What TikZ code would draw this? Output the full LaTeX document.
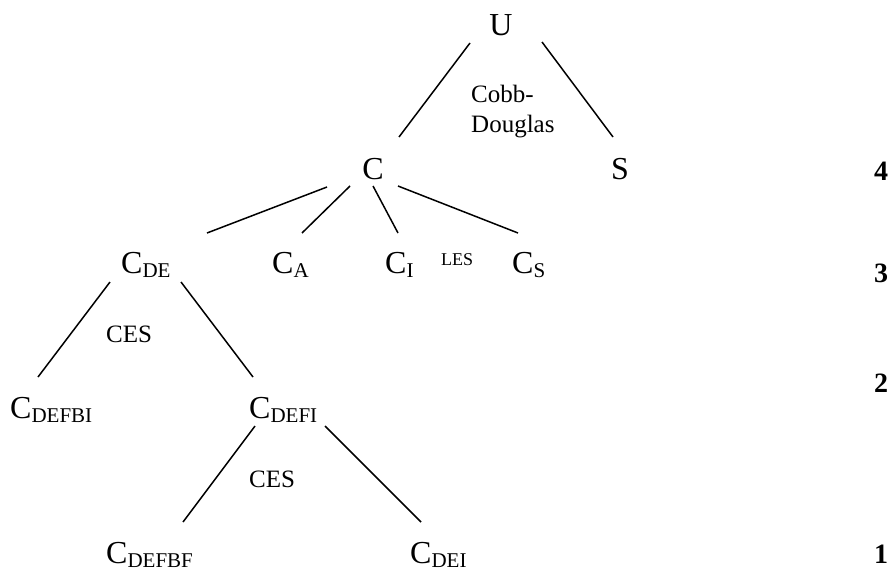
\documentclass[tikz,border=0pt]{standalone}
\usepackage{fontspec}
\setmainfont{Liberation Serif}
\newcommand{\mysub}[1]{\raisebox{-4pt}{\fontsize{21}{21}\selectfont #1}}
\tikzset{
  main/.style={inner sep=0pt, font=\fontsize{32}{38}\selectfont},
  lbl/.style={inner sep=0pt, font=\fontsize{25}{30}\selectfont},
  small/.style={inner sep=0pt, font=\fontsize{18}{20}\selectfont},
  lvl/.style={inner sep=0pt, font=\fontsize{28}{32}\selectfont\bfseries, anchor=base west},
  edge/.style={line width=1.5pt}
}
\begin{document}
\begin{tikzpicture}[x=1pt,y=-1pt]
\useasboundingbox (0,0) rectangle (893,573);
% nodes
\node[main, anchor=base] (U) at (501,35) {U};
\node[main, anchor=base] (C) at (373,179) {C};
\node[main, anchor=base] (S) at (620,179) {S};
\node[main, anchor=base west] (CDE) at (121,273) {C\mysub{DE}};
\node[main, anchor=base west] (CA) at (272,273) {C\mysub{A}};
\node[main, anchor=base west] (CI) at (385,273) {C\mysub{I}};
\node[main, anchor=base west] (CS) at (512,273) {C\mysub{S}};
\node[small, anchor=base west] (les) at (441,265) {LES};
\node[main, anchor=base west] (CDEFBI) at (10,418) {C\mysub{DEFBI}};
\node[main, anchor=base west] (CDEFI) at (249,418) {C\mysub{DEFI}};
\node[main, anchor=base west] (CDEFBF) at (106,563) {C\mysub{DEFBF}};
\node[main, anchor=base west] (CDEI) at (410,563) {C\mysub{DEI}};
\node[lbl, anchor=base west, align=left] (cobb) at (471,132) {Cobb-\\Douglas};
\node[lbl, anchor=base west] (ces1) at (106,342) {CES};
\node[lbl, anchor=base west] (ces2) at (249,487) {CES};
\node[lvl] (l4) at (874,180) {4};
\node[lvl] (l3) at (874,282) {3};
\node[lvl] (l2) at (874,392) {2};
\node[lvl] (l1) at (874,563) {1};
% connectors
\draw[edge] ([shift={(-31,8)}]U.base) -- ([shift={(26,-42)}]C.base);
\draw[edge] ([shift={(41,7)}]U.base) -- ([shift={(-7,-42)}]S.base);
\draw[edge] ([shift={(-46,8)}]C.base) -- ([shift={(86,-40)}]CDE.base west);
\draw[edge] ([shift={(-23,7)}]C.base) -- ([shift={(30,-40)}]CA.base west);
\draw[edge] ([shift={(0,7)}]C.base) -- ([shift={(13,-40)}]CI.base west);
\draw[edge] ([shift={(25,7)}]C.base) -- ([shift={(6,-40)}]CS.base west);
\draw[edge] ([shift={(-11,9)}]CDE.base west) -- ([shift={(28,-41)}]CDEFBI.base west);
\draw[edge] ([shift={(60,9)}]CDE.base west) -- ([shift={(4,-41)}]CDEFI.base west);
\draw[edge] ([shift={(6,8)}]CDEFI.base west) -- ([shift={(77,-41)}]CDEFBF.base west);
\draw[edge] ([shift={(76,8)}]CDEFI.base west) -- ([shift={(11,-41)}]CDEI.base west);
\end{tikzpicture}
\end{document}
